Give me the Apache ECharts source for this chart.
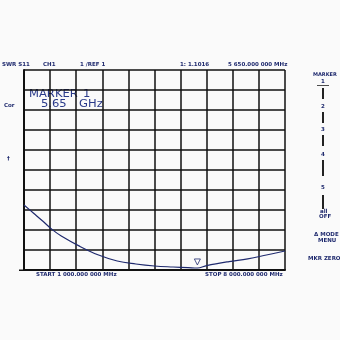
<!DOCTYPE html>
<html>
<head>
<meta charset="utf-8">
<script src="https://cdn.jsdelivr.net/npm/echarts@6/dist/echarts.min.js"></script>
<style>html,body{margin:0;padding:0;background:#fafafa;}#c{width:340px;height:340px;}</style>
</head>
<body>
<div id="c"></div>
<script>
// Frequency (GHz) and SWR values
var freqGHz = [1.0, 1.25, 1.5, 1.75, 2.0, 2.5, 3.0, 3.5, 4.0, 4.5, 5.0, 5.4, 5.65, 5.9, 6.5, 7.0, 7.5, 8.0];
var swr     = [4.25, 3.85, 3.45, 3.03, 2.7, 2.18, 1.75, 1.45, 1.3, 1.2, 1.15, 1.12, 1.10, 1.22, 1.42, 1.56, 1.75, 1.95];
var markerFreq = [5.65];
var markerSwr = [1.1016];
var headerTexts = ['SWR S11', 'CH1', '1 /REF 1', '1: 1.1016', '5 650.000 000 MHz'];
var footerTexts = ['START 1 000.000 000 MHz', 'STOP 8 000.000 000 MHz'];
var markerBox = ['MARKER', '1', '5.65', 'GHz'];
var softkeys = ['MARKER', '1', '2', '3', '4', '5', 'all', 'OFF', '\u0394 MODE', 'MENU', 'MKR ZERO'];

var navy = '#1f2a6e';
var chart = echarts.init(document.getElementById('c'), null, {renderer: 'canvas'});
var tiny = {fontFamily: 'DejaVu Sans', fontSize: 5.5, fontWeight: 'bold', fill: navy};
function t(x, y, text, extra) {
  return {type: 'text', left: x, top: y, style: Object.assign({text: text}, tiny, extra || {}), silent: true};
}
function big(x, y, text) {
  return {type: 'text', x: x, y: y, scaleX: 1.1, style: {text: text, fontFamily: 'DejaVu Sans', fontSize: 10.5, fill: '#2a3a8a'}, silent: true};
}
var graphics = [
  t(2, 62, headerTexts[0]), t(43, 62, headerTexts[1]), t(80, 62, headerTexts[2]),
  t(180, 62, headerTexts[3]), t(228, 62, headerTexts[4]),
  t(36, 272, footerTexts[0]), t(205, 272, footerTexts[1]),
  t(4, 103, 'Cor'), t(7, 156, '\u2020'),
  big(29, 89, markerBox[0]), big(83, 89, markerBox[1]),
  big(41, 99, markerBox[2]), big(79, 99, markerBox[3]),
  t(313, 72, softkeys[0], {fontSize: 5}), t(321, 79, softkeys[1]),
  {type: 'rect', shape: {x: 317, y: 85, width: 12, height: 0.8}, style: {fill: '#222'}},
  {type: 'rect', shape: {x: 322, y: 88, width: 2, height: 11}, style: {fill: '#222'}},
  t(321, 104, softkeys[2]),
  {type: 'rect', shape: {x: 322, y: 112, width: 2, height: 11}, style: {fill: '#222'}},
  t(321, 127, softkeys[3]),
  {type: 'rect', shape: {x: 322, y: 135, width: 2, height: 11}, style: {fill: '#222'}},
  t(321, 152, softkeys[4]),
  {type: 'rect', shape: {x: 322, y: 160, width: 2, height: 16}, style: {fill: '#222'}},
  t(321, 185, softkeys[5]),
  {type: 'rect', shape: {x: 322, y: 195, width: 2, height: 14}, style: {fill: '#222'}},
  t(320, 209, softkeys[6]), t(319, 214, softkeys[7]),
  t(314, 232, softkeys[8]), t(318, 238, softkeys[9]),
  t(308, 256, softkeys[10]),
  {type: 'rect', shape: {x: 19, y: 269.5, width: 6, height: 1.5}, style: {fill: '#111'}}
];

chart.setOption({
  animation: false,
  backgroundColor: '#fafafa',
  grid: {left: 24, right: 55, top: 70, bottom: 70},
  xAxis: [
    {type: 'value', min: 1, max: 8, show: false, splitLine: {show: false}},
    {type: 'value', min: 0, max: 10, interval: 1, position: 'bottom',
     axisLine: {show: true, lineStyle: {color: '#111', width: 2}}, axisTick: {show: false}, axisLabel: {show: false},
     splitLine: {show: true, lineStyle: {color: '#111', width: 1.5}}}
  ],
  yAxis: {type: 'value', min: 1, max: 11, interval: 1,
    axisLine: {show: true, lineStyle: {color: '#111', width: 2}}, axisTick: {show: false}, axisLabel: {show: false},
    splitLine: {show: true, lineStyle: {color: '#111', width: 1.5}}},
  series: [
    {type: 'line', xAxisIndex: 0, data: freqGHz.map(function (f, i) { return [f, swr[i]]; }),
     smooth: 0.4, showSymbol: false, lineStyle: {color: navy, width: 1.2}, z: 5},
    {type: 'scatter', xAxisIndex: 0, data: markerFreq.map(function (f, i) { return [f, markerSwr[i]]; }),
     symbol: 'triangle', symbolRotate: 180, symbolSize: 6, symbolOffset: [0, -6],
     itemStyle: {color: '#fff', borderColor: navy, borderWidth: 1}, z: 6}
  ],
  graphic: graphics
});
</script>
</body>
</html>
